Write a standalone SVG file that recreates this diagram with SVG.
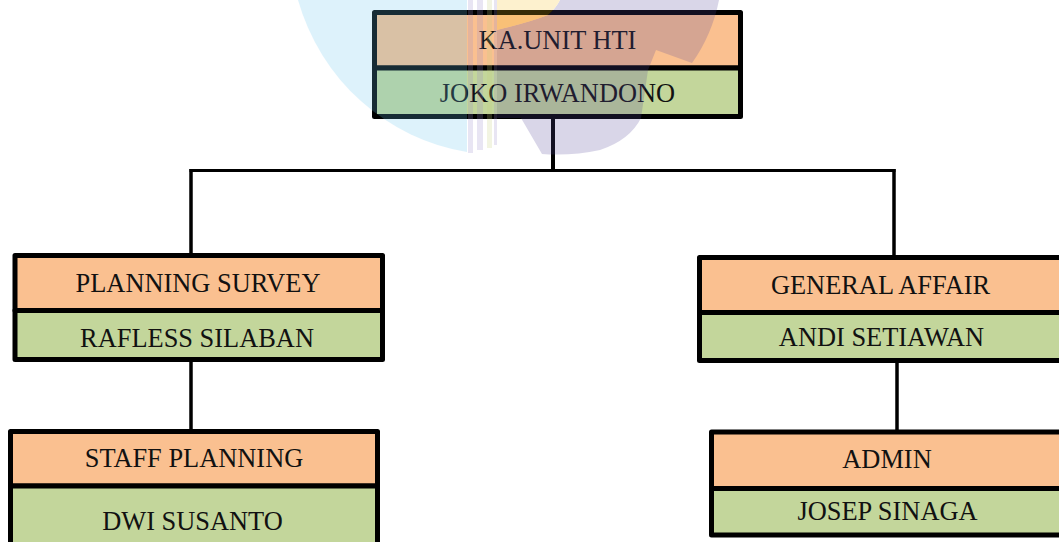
<svg xmlns="http://www.w3.org/2000/svg" width="1059" height="542" viewBox="0 0 1059 542">
<style>
.bg{fill:#ffffff}
.hd{fill:#fac090;stroke:#000;stroke-width:5;stroke-linejoin:round}
.nm{fill:#c3d69b;stroke:#000;stroke-width:5;stroke-linejoin:round}
.t{font-family:"Liberation Serif","Times New Roman",serif;font-size:26.4px;fill:#111;text-anchor:middle}
.c{stroke:#000;fill:none;stroke-linecap:butt}
</style>
<rect class="bg" x="0" y="0" width="1059" height="542"/>
<g id="connectors">
<line class="c" x1="553" y1="117" x2="553" y2="170" stroke-width="4"/>
<line class="c" x1="189.5" y1="170.5" x2="895.5" y2="170.5" stroke-width="3"/>
<line class="c" x1="191" y1="169" x2="191" y2="256" stroke-width="3.5"/>
<line class="c" x1="894" y1="169" x2="894" y2="258" stroke-width="3.5"/>
<line class="c" x1="191" y1="360" x2="191" y2="432" stroke-width="3.5"/>
<line class="c" x1="897" y1="360" x2="897" y2="433" stroke-width="3.5"/>
</g>
<g id="node-kaunit">
<rect class="hd" x="374.5" y="12.5" width="366" height="55.5"/>
<rect class="nm" x="374.5" y="68" width="366" height="48.5"/>
<text class="t" x="557.5" y="49">KA.UNIT HTI</text>
<text class="t" x="557.5" y="102">JOKO IRWANDONO</text>
</g>
<g id="node-planning">
<rect class="hd" x="15" y="255.5" width="367.5" height="55"/>
<rect class="nm" x="15" y="310.5" width="367.5" height="49"/>
<text class="t" x="198" y="292">PLANNING SURVEY</text>
<text class="t" x="197" y="347">RAFLESS SILABAN</text>
</g>
<g id="node-general">
<rect class="hd" x="699.5" y="257.5" width="362" height="55"/>
<rect class="nm" x="699.5" y="312.5" width="362" height="48"/>
<text class="t" x="880.5" y="294">GENERAL AFFAIR</text>
<text class="t" x="881.5" y="346">ANDI SETIAWAN</text>
</g>
<g id="node-staff">
<rect class="hd" x="10.5" y="431.5" width="367" height="54.5"/>
<rect class="nm" x="10.5" y="486" width="367" height="70"/>
<text class="t" x="194" y="467">STAFF PLANNING</text>
<text class="t" x="192.5" y="530">DWI SUSANTO</text>
</g>
<g id="node-admin">
<rect class="hd" x="711.5" y="432" width="351" height="56.5"/>
<rect class="nm" x="711.5" y="488.5" width="351" height="46.5"/>
<text class="t" x="887" y="468">ADMIN</text>
<text class="t" x="887.5" y="520">JOSEP SINAGA</text>
</g>
<g id="watermark" opacity="0.22">
<path d="M298,0 A210 215 0 0 0 467 152 L467 0 Z" fill="#69c7f0"/>
<path d="M560,0 L719,0 Q712,35 692,63 L656,50 L648,70 L641,118 Q630,140 600,150 Q572,156 542,154 L521,118 L497,118 L497,30 Q530,22 548,15 Q556,8 560,0 Z" fill="#55489a"/>
<path d="M497,0 L560,0 Q556,8 548,15 Q530,22 497,30 Z" fill="#f7c323"/>
<rect x="468" y="0" width="5" height="153" fill="#9a8ccc"/>
<rect x="477" y="0" width="6" height="150" fill="#9a8ccc"/>
<rect x="487" y="0" width="5" height="148" fill="#c7d080"/>
<rect x="494" y="0" width="3" height="145" fill="#9a8ccc"/>
</g>
</svg>
